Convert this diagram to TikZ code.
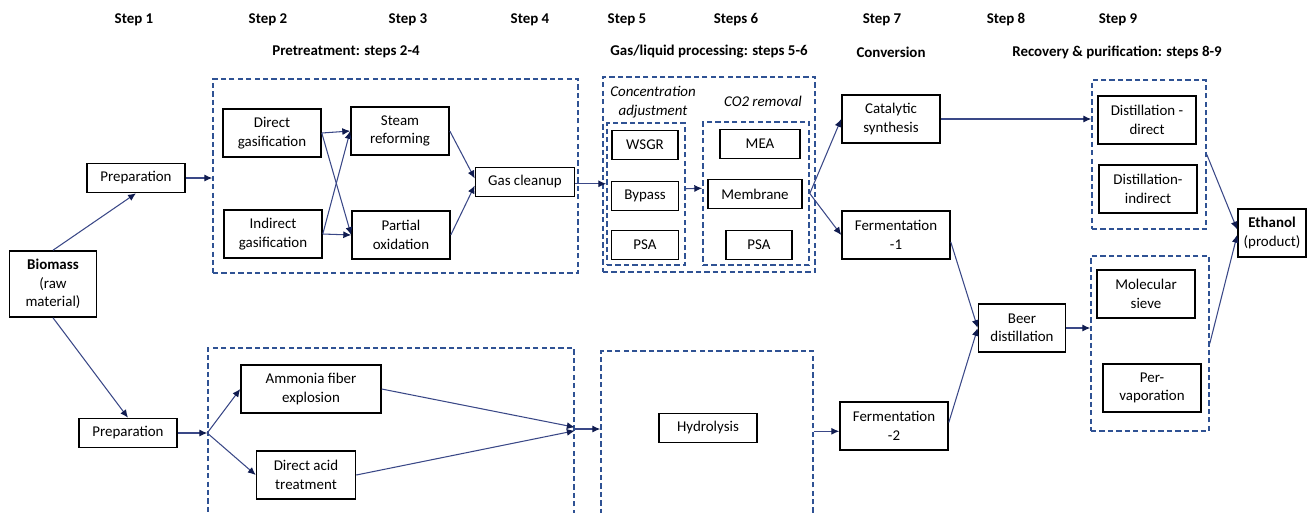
\documentclass[tikz,border=0pt]{standalone}
\usepackage{fontspec}
\setmainfont{Carlito}
\usepackage{tikz}
\usetikzlibrary{arrows.meta, positioning}
\usepackage{xcolor}
\definecolor{grpBlue}{RGB}{47, 82, 148}
\definecolor{arrBlue}{RGB}{58, 72, 135}
\definecolor{headNavy}{RGB}{16, 28, 80}

\begin{document}
\begin{tikzpicture}[
  x=0.02cm, y=-0.02cm,
  every node/.style={align=center, font=\fontsize{8.5}{10.5}\selectfont},
  box/.style={draw, line width=0.9pt, fill=white, inner sep=1pt, minimum width=1.96cm, minimum height=0.96cm},
  small/.style={box, minimum height=0.58cm},
  group/.style={draw=grpBlue, line width=0.9pt, dash pattern=on 3pt off 1.8pt, inner sep=0pt},
  arrow/.style={-{Latex[length=4.5pt,width=4pt,color=headNavy]}, draw=arrBlue, line width=0.6pt},
  stephead/.style={font=\fontsize{8.5}{10.5}\selectfont\bfseries},
  phase/.style={font=\fontsize{8.5}{10.5}\selectfont\bfseries},
  note/.style={font=\fontsize{8.5}{10.5}\selectfont\itshape},
]
\useasboundingbox (0,0) rectangle (1307,512);
\clip (0,0) rectangle (1307,512);

% Step headers
\node[stephead] (s1) at (134,20) {Step 1};
\node[stephead] (s2) at (268,20) {Step 2};
\node[stephead] (s3) at (408,20) {Step 3};
\node[stephead] (s4) at (530,20) {Step 4};
\node[stephead] (s5) at (627,20) {Step 5};
\node[stephead] (s6) at (736,20) {Steps 6};
\node[stephead] (s7) at (882,20) {Step 7};
\node[stephead] (s8) at (1006,20) {Step 8};
\node[stephead] (s9) at (1118,20) {Step 9};

% Phase headers
\node[phase] (pretreat) at (346,52) {Pretreatment: steps 2-4};
\node[phase] (gasliquid) at (709,52) {Gas/liquid processing: steps 5-6};
\node[phase] (conversion) at (891,52) {Conversion};
\node[phase] (recovery) at (1117,52) {Recovery \& purification: steps 8-9};

% Dashed groups
\node[group, minimum width=7.3cm, minimum height=3.88cm] (pretop) at (395.5,176) {};
\node[group, minimum width=7.32cm, minimum height=3.44cm] (prebot) at (391,434) {};
\node[group, minimum width=4.24cm, minimum height=3.9cm] (gasbox) at (709,174.5) {};
\node[group, minimum width=1.56cm, minimum height=2.84cm] (concbox) at (646,194) {};
\node[group, minimum width=2.12cm, minimum height=2.86cm] (co2box) at (756,193.5) {};
\node[group, minimum width=4.24cm, minimum height=3.38cm] (hydrobox) at (707,435.5) {};
\node[group, minimum width=2.28cm, minimum height=2.98cm] (distbox) at (1149,154.5) {};
\node[group, minimum width=2.36cm, minimum height=3.5cm] (sievebox) at (1150,343.5) {};

% Group notes
\node[note] (concnote) at (653,102) {Concentration\\adjustment};
\node[note] (co2note) at (763,101) {CO2 removal};

% Feed side
\node[box, minimum width=1.74cm, minimum height=1.32cm] (biomass) at (53,284) {\textbf{Biomass}\\(raw\\material)};
\node[small] (prep1) at (136,178) {Preparation};
\node[small] (prep2) at (128,433) {Preparation};

% Gasification path
\node[box] (direct) at (272,133) {Direct\\gasification};
\node[box] (indirect) at (273,234) {Indirect\\gasification};
\node[box] (steam) at (400,131) {Steam\\reforming};
\node[box] (partial) at (401,235) {Partial\\oxidation};
\node[small, minimum width=1.98cm] (cleanup) at (525,182) {Gas cleanup};
\node[small, minimum width=1.32cm] (wsgr) at (645,145) {WSGR};
\node[small, minimum width=1.34cm] (bypass) at (645,196) {Bypass};
\node[small, minimum width=1.34cm] (psaA) at (645,245) {PSA};
\node[small, minimum width=1.6cm] (mea) at (760,144) {MEA};
\node[small, minimum width=1.88cm] (membrane) at (755,194) {Membrane};
\node[small, minimum width=1.32cm] (psaB) at (759,245) {PSA};
\node[box] (catalytic) at (891,119) {Catalytic\\synthesis};
\node[box, minimum width=2.16cm] (ferm1) at (896,235) {Fermentation\\-1};

% Biochemical path
\node[box, minimum width=2.8cm] (ammonia) at (311,389) {Ammonia fiber\\explosion};
\node[box, minimum width=1.98cm] (acid) at (306,475) {Direct acid\\treatment};
\node[small] (hydrolysis) at (708,428) {Hydrolysis};
\node[box, minimum width=2.16cm] (ferm2) at (894,426) {Fermentation\\-2};

% Recovery and product
\node[box, minimum width=1.74cm] (beer) at (1022,328) {Beer\\distillation};
\node[box] (distdirect) at (1147,120) {Distillation -\\direct};
\node[box] (distindirect) at (1148,189) {Distillation-\\indirect};
\node[box] (sieve) at (1146,294) {Molecular\\sieve};
\node[box] (perva) at (1152,388) {Per-\\vaporation};
\node[box, minimum width=1.36cm] (ethanol) at (1272,233) {\textbf{Ethanol}\\(product)};

% Split and merge points
\coordinate (split) at (prep2.east -| prebot.west);
\coordinate (merge) at (prebot.east |- 0,429);

% Arrows
\draw[arrow] (biomass.north) -- (prep1.south);
\draw[arrow] (biomass.south) -- (prep2.north);
\draw[arrow] (prep1.east) -- (prep1.east -| pretop.west);
\draw[arrow] (prep2.east) -- (split);
\draw[arrow] (split) -- (ammonia.west);
\draw[arrow] (split) -- (acid.west);
\draw[arrow] (ammonia.east) -- ([yshift=1pt]merge);
\draw[arrow] (acid.east) -- ([yshift=-1pt]merge);
\draw[arrow] (merge) -- (merge -| hydrobox.west);
\draw[arrow] ([yshift=-3pt]ferm2.west -| hydrobox.east) -- ([yshift=-3pt]ferm2.west);
\draw[arrow] (direct.east) -- (steam.west);
\draw[arrow] (direct.east) -- (partial.west);
\draw[arrow] (indirect.east) -- (steam.west);
\draw[arrow] (indirect.east) -- (partial.west);
\draw[arrow] (steam.east) -- ([yshift=2pt]cleanup.west);
\draw[arrow] (partial.east) -- ([yshift=-2pt]cleanup.west);
\draw[arrow] ([yshift=-1pt]cleanup.east) -- ([yshift=-1pt]cleanup.east -| concbox.west);
\draw[arrow] ([yshift=3pt]concbox.east) -- ([yshift=3pt]co2box.west);
\draw[arrow] (co2box.east) -- (catalytic.west);
\draw[arrow] (co2box.east) -- (ferm1.west);
\draw[arrow] (catalytic.east) -- (catalytic.east -| distbox.west);
\draw[arrow] ([yshift=-4pt]ferm1.east) -- (beer.west);
\draw[arrow] ([yshift=2pt]ferm2.east) -- (beer.west);
\draw[arrow] (beer.east) -- (beer.east -| sievebox.west);
\draw[arrow] (distbox.east) -- ([yshift=2pt]ethanol.west);
\draw[arrow] (sievebox.east) -- ([yshift=-1pt]ethanol.west);

\end{tikzpicture}
\end{document}
